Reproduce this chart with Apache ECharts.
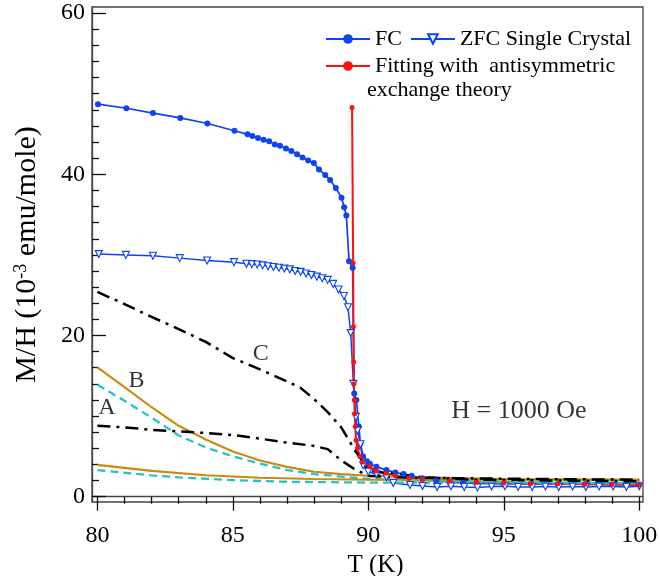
<!DOCTYPE html>
<html>
<head>
<meta charset="utf-8">
<script src="https://cdn.jsdelivr.net/npm/echarts@6/dist/echarts.min.js"></script>
<style>
  html, body { margin: 0; padding: 0; background: #fff; }
  #chart { width: 660px; height: 576px; }
</style>
</head>
<body>
<div id="chart"></div>
<script>
// FC (field cooled), single crystal
var fcData = [
    [80.02, 48.7], [81.07, 48.2], [82.05, 47.6], [83.06, 47.0], [84.06, 46.3], [85.06, 45.4],
    [85.54, 44.96], [85.72, 44.75], [85.93, 44.5], [86.13, 44.3], [86.34, 44.1], [86.55, 43.7],
    [86.74, 43.55], [86.96, 43.2], [87.16, 42.9], [87.37, 42.5], [87.57, 42.1], [87.78, 41.7],
    [87.99, 41.4], [88.18, 40.6], [88.41, 39.9], [88.59, 39.3], [88.8, 38.3], [89.01, 37.1],
    [89.11, 35.9], [89.19, 34.9], [89.29, 29.2], [89.42, 28.4], [89.48, 12.8], [89.56, 12.0],
    [89.65, 8.7], [89.71, 6.6], [89.81, 5.0], [89.95, 4.4], [90.06, 4.1], [90.3, 3.7],
    [90.67, 3.3], [91.0, 3.0], [91.3, 2.8], [91.6, 2.6], [92.0, 2.3], [92.5, 2.0], [93.0, 1.8],
    [93.5, 1.7], [94.0, 1.65], [95.0, 1.6], [96.0, 1.6], [97.0, 1.55], [98.0, 1.55], [99.0, 1.5],
    [100.0, 1.5]
];
// ZFC (zero field cooled)
var zfcData = [
    [80.05, 30.1], [81.05, 30.0], [82.05, 29.9], [83.04, 29.6], [84.05, 29.3], [85.04, 29.1],
    [85.5, 28.9], [85.7, 28.85], [85.9, 28.8], [86.1, 28.7], [86.3, 28.6], [86.5, 28.5],
    [86.7, 28.4], [86.9, 28.3], [87.1, 28.2], [87.3, 28.0], [87.5, 27.9], [87.7, 27.7],
    [87.9, 27.5], [88.1, 27.3], [88.3, 27.1], [88.5, 26.9], [88.7, 26.4], [88.9, 25.7],
    [89.1, 24.9], [89.25, 23.5], [89.35, 20.3], [89.45, 14.0], [89.54, 9.9], [89.6, 8.2],
    [89.71, 6.5], [89.81, 3.9], [90.0, 3.1], [90.3, 2.8], [90.67, 2.4], [90.92, 1.7],
    [91.54, 1.45], [92.0, 1.33], [92.54, 1.2], [93.05, 1.3], [93.54, 1.2], [94.03, 1.15],
    [94.55, 1.25], [95.04, 1.3], [95.53, 1.2], [96.05, 1.2], [96.54, 1.25], [97.03, 1.2],
    [97.54, 1.25], [98.03, 1.2], [98.52, 1.25], [99.04, 1.25], [99.53, 1.2], [100.0, 1.3]
];
// fit with antisymmetric exchange theory
var fitData = [
    [89.4, 48.3], [89.44, 29.0], [89.45, 21.1], [89.46, 16.7], [89.47, 14.0], [89.48, 12.0],
    [89.5, 10.3], [89.52, 8.7], [89.55, 7.0], [89.6, 6.0], [89.69, 5.0], [89.8, 4.3],
    [90.06, 3.7], [90.3, 3.2], [90.67, 2.9], [91.0, 2.6], [91.5, 2.3], [92.0, 2.1], [93.0, 1.9],
    [94.0, 1.8], [95.0, 1.7], [96.0, 1.65], [97.0, 1.6], [98.0, 1.55], [99.0, 1.5], [100.0, 1.45]
];
// black dash-dot curves
var curveC = [
    [80, 25.4], [81, 23.9], [82, 22.3], [83, 20.8], [84, 19.2], [85, 17.2], [86, 15.8],
    [87, 14.3], [87.5, 13.5], [88, 12.1], [88.5, 10.5], [89, 8.6], [89.5, 5.8], [90, 3.3],
    [90.5, 3.0], [91, 2.9], [92, 2.4], [94, 2.1], [97, 2.0], [100, 1.9]
];
var curveBlackLow = [
    [80, 8.8], [81, 8.6], [82, 8.3], [83, 8.1], [84, 7.9], [85, 7.65], [86, 7.2], [87, 6.7],
    [88, 6.3], [88.5, 5.9], [89, 4.5], [89.5, 3.4], [90, 2.6], [91, 2.4], [93, 2.3], [96, 2.2],
    [100, 2.1]
];
// orange curves
var curveB = [
    [80, 16.05], [81, 13.6], [82, 11.1], [83, 8.8], [84, 7.1], [85, 5.6], [86, 4.5], [87, 3.7],
    [88, 3.1], [89, 2.8], [90, 2.6], [92, 2.4], [95, 2.2], [100, 2.1]
];
var curveOrangeLow = [
    [80, 3.95], [82, 3.2], [84, 2.65], [86, 2.35], [88, 2.2], [90, 2.1], [95, 2.1], [100, 2.1]
];
// cyan dashed curves
var curveA = [
    [80, 13.9], [81, 11.9], [82, 9.8], [83, 7.6], [84, 6.1], [85, 5.0], [86, 4.1], [87, 3.3],
    [88, 2.8], [89, 2.5], [90, 2.2], [92, 2.0], [95, 1.8], [100, 1.7]
];
var curveCyanLow = [
    [80, 3.3], [82, 2.65], [83, 2.4], [85, 2.05], [87, 1.85], [90, 1.75], [95, 1.7], [100, 1.7]
];

var curveLabels = [[86.03, 17.7, 'C'], [81.44, 14.35, 'B'], [80.35, 11.0, 'A']];
var fieldNote = [[95.56, 10.6, 'H = 1000 Oe']];

var xMajor = [80, 85, 90, 95, 100];
var xMinor = [81, 82, 83, 84, 86, 87, 88, 89, 91, 92, 93, 94, 96, 97, 98, 99];
var yMajor = [0, 20, 40, 60];
var yMinor = [2, 4, 6, 8, 10, 12, 14, 16, 18, 22, 24, 26, 28, 30, 32, 34, 36, 38,
    42, 44, 46, 48, 50, 52, 54, 56, 58];

var serif = 'Liberation Serif';
var axisColor = '#444';
var blue = '#0c44f2';
var red = '#ff1010';
var orange = '#c98a0e';
var cyan = '#22c4c8';

var fitName = 'Fitting with  antisymmetric\nexchange theory';

var chart = echarts.init(document.getElementById('chart'));

var option = {
    animation: false,
    backgroundColor: '#fff',
    grid: {
        left: 92, right: 17, top: 7, bottom: 74,
        outerBoundsMode: 'none',
        show: true,
        borderColor: axisColor,
        borderWidth: 1.3
    },
    // second line of the fit legend entry
    title: {
        text: fitName.split('\n')[1],
        left: 367, top: 79, padding: 0,
        textStyle: { fontFamily: serif, fontSize: 22, fontWeight: 'normal', color: '#000' }
    },
    legend: [{
        data: ['FC', 'ZFC Single Crystal'],
        left: 320, top: 23,
        itemWidth: 44, itemHeight: 12, itemGap: 8,
        textStyle: { fontFamily: serif, fontSize: 22, color: '#000' }
    }, {
        data: [fitName],
        left: 320, top: 50,
        itemWidth: 44, itemHeight: 12,
        formatter: function (name) { return name.split('\n')[0]; },
        textStyle: { fontFamily: serif, fontSize: 22, color: '#000' }
    }],
    xAxis: [{
        type: 'value', min: 79.8, max: 100.14,
        name: 'T (K)', nameLocation: 'middle', nameGap: 45,
        nameTextStyle: { fontFamily: serif, fontSize: 25, color: '#000', padding: [0, 0, 0, 16] },
        axisLine: { lineStyle: { color: axisColor, width: 1.3 } },
        axisTick: { show: true, inside: false, length: 14, customValues: xMajor, lineStyle: { color: '#111', width: 1.3 } },
        axisLabel: { customValues: xMajor, fontFamily: serif, fontSize: 24, color: '#000', margin: 22 },
        splitLine: { show: false }
    }, {
        type: 'value', min: 79.8, max: 100.14, position: 'bottom',
        axisLine: { show: false },
        axisTick: { show: true, inside: false, length: 7, customValues: xMinor, lineStyle: { color: '#111', width: 1.3 } },
        axisLabel: { show: false },
        splitLine: { show: false }
    }],
    yAxis: [{
        type: 'value', min: -0.66, max: 60.76,
        name: '{t|M/H (10}{s|-3}{t| emu/mole)}', nameLocation: 'middle', nameGap: 50,
        nameTextStyle: {
            color: '#000',
            rich: {
                t: { fontFamily: serif, fontSize: 30, color: '#000' },
                s: { fontFamily: serif, fontSize: 18, color: '#000', verticalAlign: 'top' }
            }
        },
        axisLine: { lineStyle: { color: axisColor, width: 1.3 } },
        axisTick: { show: true, inside: true, length: 14, customValues: yMajor, lineStyle: { color: '#111', width: 1.3 } },
        axisLabel: { customValues: yMajor, fontFamily: serif, fontSize: 24, color: '#000', margin: 7 },
        splitLine: { show: false }
    }, {
        type: 'value', min: -0.66, max: 60.76, position: 'left',
        axisLine: { show: false },
        axisTick: { show: true, inside: true, length: 7, customValues: yMinor, lineStyle: { color: '#111', width: 1.3 } },
        axisLabel: { show: false },
        splitLine: { show: false }
    }],
    series: [{
        name: 'FC', type: 'line', data: fcData,
        symbol: 'circle', symbolSize: 6,
        itemStyle: { color: blue },
        lineStyle: { color: blue, width: 1.7 }
    }, {
        name: 'ZFC Single Crystal', type: 'line', data: zfcData,
        symbol: 'triangle', symbolRotate: 180, symbolSize: 7,
        itemStyle: { color: '#fff', borderColor: blue, borderWidth: 1.1 },
        lineStyle: { color: blue, width: 1.5 }
    }, {
        name: fitName, type: 'line', data: fitData,
        symbol: 'circle', symbolSize: 5,
        itemStyle: { color: red },
        lineStyle: { color: red, width: 2 }
    }, {
        name: 'A', type: 'line', data: curveA, symbol: 'none',
        lineStyle: { color: cyan, width: 2.3, type: [8, 5] }
    }, {
        name: 'cyanLow', type: 'line', data: curveCyanLow, symbol: 'none',
        lineStyle: { color: cyan, width: 2.3, type: [8, 5] }
    }, {
        name: 'B', type: 'line', data: curveB, symbol: 'none',
        lineStyle: { color: orange, width: 2.1 }
    }, {
        name: 'orangeLow', type: 'line', data: curveOrangeLow, symbol: 'none',
        lineStyle: { color: orange, width: 2.1 }
    }, {
        name: 'C', type: 'line', data: curveC, symbol: 'none',
        lineStyle: { color: '#000', width: 2.5, type: [13, 6, 3, 6] }
    }, {
        name: 'blackLow', type: 'line', data: curveBlackLow, symbol: 'none',
        lineStyle: { color: '#000', width: 2.5, type: [13, 6, 3, 6] }
    }, {
        name: 'labels', type: 'scatter',
        symbolSize: 1,
        itemStyle: { color: 'transparent' },
        silent: true,
        label: {
            show: true, position: 'inside',
            formatter: function (p) { return p.value[2]; },
            fontFamily: serif, color: '#000', fontSize: 24
        },
        data: curveLabels.map(function (d) {
            return { value: d };
        }).concat(fieldNote.map(function (d) {
            // the field note is a little bigger than the curve letters
            return { value: d, label: { fontSize: 26 } };
        }))
    }]
};

chart.setOption(option);
</script>
</body>
</html>
